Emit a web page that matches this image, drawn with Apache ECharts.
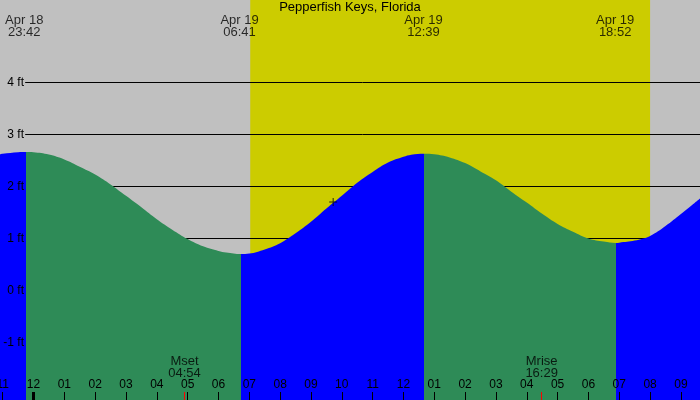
<!DOCTYPE html>
<html><head><meta charset="utf-8">
<script src="https://cdn.jsdelivr.net/npm/echarts@6/dist/echarts.min.js"></script>
<style>html,body{margin:0;padding:0;background:#c0c0c0}#c{width:700px;height:400px}</style>
</head><body><div id="c"></div>
<script>
// ---- data ----
const chartTitle = 'Pepperfish Keys, Florida';
const tideHours = [-1.09, -1, -0.5, -0.25, 0, 0.5, 1, 1.5, 2, 2.5, 3, 3.5, 4, 4.5, 5, 5.5, 6, 6.25, 6.73,
                   7, 7.5, 8, 8.5, 9, 9.5, 10, 10.5, 11, 11.5, 12, 12.25, 12.67,
                   13, 13.5, 14, 14.5, 15, 15.5, 16, 16.5, 17, 17.5, 18, 18.5, 18.9,
                   19, 19.5, 20, 20.5, 21, 21.62];
const tideFeet  = [2.62, 2.63, 2.66, 2.665, 2.66, 2.615, 2.52, 2.38, 2.23, 2.04, 1.82, 1.60, 1.37, 1.17, 0.99, 0.85, 0.76, 0.73, 0.70,
                   0.71, 0.79, 0.91, 1.10, 1.32, 1.575, 1.82, 2.07, 2.28, 2.46, 2.57, 2.61, 2.63,
                   2.62, 2.56, 2.45, 2.29, 2.12, 1.90, 1.69, 1.475, 1.28, 1.13, 1.0, 0.94, 0.915,
                   0.92, 0.96, 1.05, 1.24, 1.47, 1.77];
const turnHours = [-0.25, 6.73, 12.67, 18.9];
const extremeHours = [-0.3, 6.683, 12.65, 18.867];
const extremeLabels = ['Apr 18\n23:42', 'Apr 19\n06:41', 'Apr 19\n12:39', 'Apr 19\n18:52'];
const daylight = [7.03, 20.0];
const moonHours = [4.9, 16.483];
const moonLabels = ['Mset\n04:54', 'Mrise\n16:29'];
const tickHours = [-1,0,1,2,3,4,5,6,7,8,9,10,11,12,13,14,15,16,17,18,19,20,21];
const tickLabels = ['11','12','01','02','03','04','05','06','07','08','09','10','11','12','01','02','03','04','05','06','07','08','09'];
const levelFeet = [-1, 0, 1, 2, 3, 4];
const levelLabels = ['-1 ft', '0 ft', '1 ft', '2 ft', '3 ft', '4 ft'];
const nowMark = [9.72, 1.70];

// ---- layout ----
const X_MIN = -1.0866, X_MAX = 21.619;
const Y_MIN = -2.1058, Y_MAX = 5.5865;
const FONT = 'Liberation Sans, Arial, sans-serif';
const BLUE = '#0000ff', GREEN = '#2e8b57', GRAY = '#c0c0c0', YELLOW = '#cccc00';

const pieces = [];
const bounds = [-Infinity].concat(turnHours, [Infinity]);
for (let i = 0; i < bounds.length - 1; i++) {
  const p = { color: i % 2 === 0 ? BLUE : GREEN };
  if (isFinite(bounds[i])) p.gte = bounds[i];
  if (isFinite(bounds[i + 1])) p.lt = bounds[i + 1];
  pieces.push(p);
}

const tickLen = 8 / 52;
const chart = echarts.init(document.getElementById('c'), null, { renderer: 'canvas' });
chart.setOption({
  animation: false,
  backgroundColor: GRAY,
  title: {
    text: chartTitle, left: 'center', top: 1, padding: 0,
    textStyle: { fontSize: 13, fontWeight: 'normal', color: '#000', fontFamily: FONT }
  },
  grid: { left: 0, right: 0, top: 0, bottom: 0, containLabel: false, outerBoundsMode: 'none' },
  visualMap: { type: 'piecewise', show: false, dimension: 0, seriesIndex: 3, pieces: pieces },
  xAxis: {
    type: 'value', min: X_MIN, max: X_MAX, z: 10,
    splitLine: { show: false }, axisLine: { show: false, onZero: false },
    axisTick: { show: true, inside: true, length: 8, customValues: tickHours, lineStyle: { color: '#000', width: 1 } },
    axisLabel: {
      show: true, inside: true, margin: 9, customValues: tickHours, hideOverlap: false,
      fontSize: 12, color: '#000', fontFamily: FONT,
      formatter: v => tickLabels[tickHours.indexOf(Math.round(v))]
    }
  },
  yAxis: {
    type: 'value', min: Y_MIN, max: Y_MAX, z: 10,
    splitLine: { show: false }, axisLine: { show: false, onZero: false }, axisTick: { show: false },
    axisLabel: {
      show: true, inside: true, margin: 24, align: 'right', customValues: levelFeet,
      fontSize: 12, color: '#000', fontFamily: FONT,
      formatter: v => levelLabels[levelFeet.indexOf(Math.round(v))]
    }
  },
  series: [
    { // daylight
      type: 'line', data: [], z: 0, silent: true,
      markArea: { silent: true, z: 0, itemStyle: { color: YELLOW, opacity: 1 },
        data: [[{ xAxis: daylight[0] }, { xAxis: daylight[1] }]] }
    },
    { // level lines
      type: 'line', data: [], z: 1, silent: true,
      markLine: { silent: true, z: 1, symbol: ['none', 'none'], label: { show: false },
        lineStyle: { color: '#000', width: 1, type: 'solid' },
        data: levelFeet.map(f => [{ coord: [-0.27, f] }, { coord: [X_MAX, f] }]) }
    },
    { // special ticks
      type: 'line', data: [], z: 11, silent: true,
      markLine: { silent: true, z: 11, symbol: ['none', 'none'], label: { show: false },
        data: [[{ coord: [0, Y_MIN], lineStyle: { color: '#000', width: 3, type: 'solid' } }, { coord: [0, Y_MIN + tickLen] }]]
          .concat(moonHours.map(h => [{ coord: [h, Y_MIN], lineStyle: { color: '#ff0000', width: 1, type: 'solid' } }, { coord: [h, Y_MIN + tickLen] }])) }
    },
    { // tide
      type: 'line', z: 2, silent: true,
      data: tideHours.map((h, i) => [h, tideFeet[i]]),
      smooth: 0.4, showSymbol: false, symbol: 'none',
      lineStyle: { width: 0 },
      areaStyle: { opacity: 1, origin: 'start' }
    },
    { // extreme labels
      type: 'scatter', z: 12, silent: true, symbolSize: 1, itemStyle: { color: 'rgba(0,0,0,0)' },
      data: extremeHours.map((h, i) => [h, 5.0865, extremeLabels[i]]),
      label: { show: true, position: 'inside', formatter: p => p.data[2], fontSize: 13, lineHeight: 12, color: '#000', fontFamily: FONT }
    },
    { // moon labels
      type: 'scatter', z: 12, silent: true, symbolSize: 1, itemStyle: { color: 'rgba(0,0,0,0)' },
      data: moonHours.map((h, i) => [h, -1.471, moonLabels[i]]),
      label: { show: true, position: 'inside', formatter: p => p.data[2], fontSize: 13, lineHeight: 12, color: '#000', fontFamily: FONT }
    },
    { // now marker
      type: 'scatter', z: 12, silent: true,
      symbol: 'path://M0,3.5h8v1h-8z M3.5,0h1v8h-1z', symbolSize: [8, 8],
      itemStyle: { color: '#000' },
      data: [nowMark]
    }
  ]
});
</script></body></html>
